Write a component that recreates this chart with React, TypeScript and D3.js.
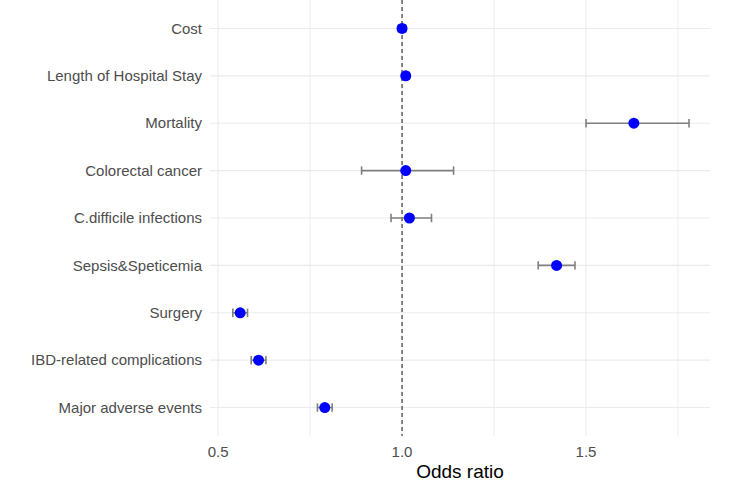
import React, { useEffect, useRef } from 'react';
import * as d3 from 'd3';

// outcomes listed top to bottom
const outcomes = [
  'Cost',
  'Length of Hospital Stay',
  'Mortality',
  'Colorectal cancer',
  'C.difficile infections',
  'Sepsis&Speticemia',
  'Surgery',
  'IBD-related complications',
  'Major adverse events'
];
const oddsRatio = [1.0, 1.01, 1.63, 1.01, 1.02, 1.42, 0.56, 0.61, 0.79];
const lowerCI = [0.99, 1.0, 1.5, 0.89, 0.97, 1.37, 0.54, 0.59, 0.77];
const upperCI = [1.01, 1.02, 1.78, 1.14, 1.08, 1.47, 0.58, 0.63, 0.81];
const xTicks = [0.5, 1.0, 1.5];
const xMinorTicks = [0.75, 1.25, 1.75];

const App = () => {
  const ref = useRef<SVGSVGElement | null>(null);

  useEffect(() => {
    const width = 750;
    const height = 501;
    const margin = { top: 0, right: 40, bottom: 65, left: 210 };
    const svg = d3.select(ref.current);
    svg.selectAll('*').remove();

    const rows = outcomes.map((o, i) => ({ name: o, or: oddsRatio[i], lo: lowerCI[i], hi: upperCI[i] }));

    const x = d3.scaleLinear().domain([0.478, 1.837]).range([margin.left, width - margin.right]);
    const y = d3
      .scalePoint()
      .domain(outcomes)
      .range([margin.top, height - margin.bottom])
      .padding(0.6);

    const font = '"Liberation Sans", Arial, sans-serif';

    // grid
    const g = svg.append('g');
    g.selectAll('.vmin')
      .data(xMinorTicks)
      .enter()
      .append('line')
      .attr('x1', (d) => x(d))
      .attr('x2', (d) => x(d))
      .attr('y1', margin.top)
      .attr('y2', height - margin.bottom)
      .attr('stroke', '#EBEBEB')
      .attr('stroke-width', 0.9);
    g.selectAll('.vmaj')
      .data(xTicks)
      .enter()
      .append('line')
      .attr('x1', (d) => x(d))
      .attr('x2', (d) => x(d))
      .attr('y1', margin.top)
      .attr('y2', height - margin.bottom)
      .attr('stroke', '#EBEBEB')
      .attr('stroke-width', 1.1);
    g.selectAll('.h')
      .data(outcomes)
      .enter()
      .append('line')
      .attr('x1', margin.left)
      .attr('x2', width - margin.right)
      .attr('y1', (d) => y(d)!)
      .attr('y2', (d) => y(d)!)
      .attr('stroke', '#EBEBEB')
      .attr('stroke-width', 1.1);

    // reference line at OR = 1
    svg
      .append('line')
      .attr('x1', x(1))
      .attr('x2', x(1))
      .attr('y1', margin.top)
      .attr('y2', height - margin.bottom)
      .attr('stroke', '#3a3a3a')
      .attr('stroke-width', 1.2)
      .attr('stroke-dasharray', '4,3');

    // error bars
    const cap = 4.2;
    const eb = svg.append('g').attr('stroke', '#7F7F7F').attr('stroke-width', 1.6).attr('fill', 'none');
    rows.forEach((r) => {
      const cy = y(r.name)!;
      eb.append('line').attr('x1', x(r.lo)).attr('x2', x(r.hi)).attr('y1', cy).attr('y2', cy);
      eb.append('line').attr('x1', x(r.lo)).attr('x2', x(r.lo)).attr('y1', cy - cap).attr('y2', cy + cap);
      eb.append('line').attr('x1', x(r.hi)).attr('x2', x(r.hi)).attr('y1', cy - cap).attr('y2', cy + cap);
    });

    // points
    svg
      .append('g')
      .selectAll('circle')
      .data(rows)
      .enter()
      .append('circle')
      .attr('cx', (d) => x(d.or))
      .attr('cy', (d) => y(d.name)!)
      .attr('r', 5.5)
      .attr('fill', '#0000FF');

    // y labels
    svg
      .append('g')
      .selectAll('text')
      .data(outcomes)
      .enter()
      .append('text')
      .attr('x', margin.left - 8)
      .attr('y', (d) => y(d)!)
      .attr('dy', '0.35em')
      .attr('text-anchor', 'end')
      .attr('font-family', font)
      .attr('font-size', 15)
      .attr('fill', '#4D4D4D')
      .text((d) => d);

    // x tick labels
    svg
      .append('g')
      .selectAll('text')
      .data(xTicks)
      .enter()
      .append('text')
      .attr('x', (d) => x(d))
      .attr('y', height - margin.bottom + 21)
      .attr('text-anchor', 'middle')
      .attr('font-family', font)
      .attr('font-size', 15)
      .attr('fill', '#4D4D4D')
      .text((d) => d3.format('.1f')(d));

    // x title
    svg
      .append('text')
      .attr('x', (margin.left + width - margin.right) / 2)
      .attr('y', height - 23)
      .attr('text-anchor', 'middle')
      .attr('font-family', font)
      .attr('font-size', 19)
      .attr('fill', '#000')
      .text('Odds ratio');
  }, []);

  return (
    <svg
      ref={ref}
      width={750}
      height={501}
      style={{ position: 'absolute', left: 0, top: 0, background: '#fff' }}
    />
  );
};

export default App;
